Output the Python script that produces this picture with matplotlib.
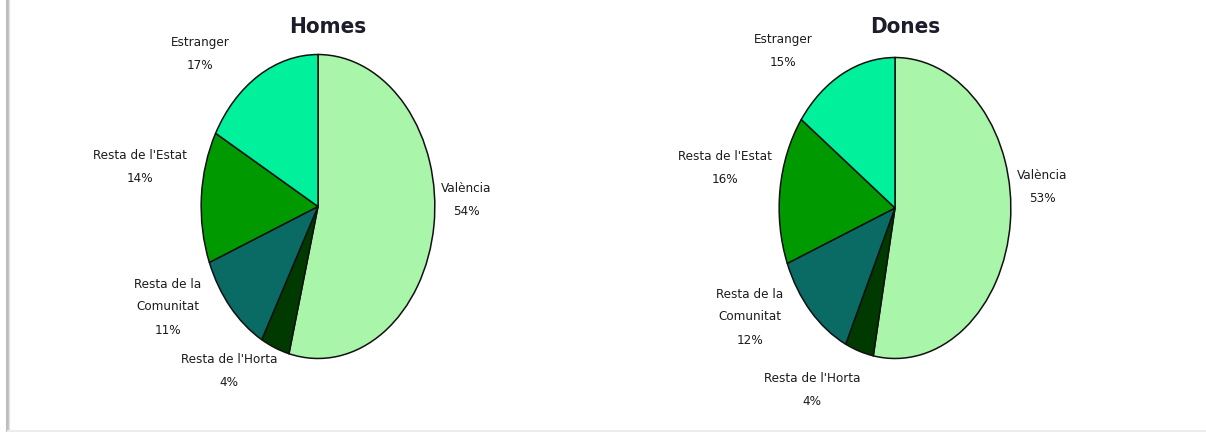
import matplotlib.pyplot as plt
from matplotlib.lines import Line2D

W, H = 1206, 432

origins = ["València", "Resta de l'Horta", "Resta de la\nComunitat",
           "Resta de l'Estat", "Estranger"]
homes = [54, 4, 11, 14, 17]
dones = [53, 4, 12, 16, 15]
titles = ["Homes", "Dones"]

colors = ["#a9f5a9", "#003a00", "#0a6a64", "#009a00", "#00f09c"]

# pie ellipses in pixels: centre x, centre y (from top), half width, half height
ellipses = [(318, 206.5, 118, 153.5), (895, 208, 117, 152)]
title_pos = [(328, 27), (905, 27)]
# label centres (pixels, from top), same order as origins
label_pos = [
    [(466, 200), (229, 371), (168, 307), (140, 167), (200, 54)],
    [(1042, 187), (812, 390), (750, 317), (725, 168), (783, 51)],
]

fig = plt.figure(figsize=(W / 100, H / 100), dpi=100)
fig.patch.set_facecolor("white")

for values, title, (cx, cy, rx, ry), tpos, lpos in zip(
        [homes, dones], titles, ellipses, title_pos, label_pos):
    ax = fig.add_axes([(cx - rx) / W, (H - cy - ry) / H, 2 * rx / W, 2 * ry / H])
    ax.pie(values, colors=colors, startangle=90, counterclock=False,
           radius=1, wedgeprops=dict(edgecolor="#111111", linewidth=1.1))
    ax.set_aspect("auto")
    ax.set_xlim(-1.01, 1.01)
    ax.set_ylim(-1.01, 1.01)
    ax.axis("off")

    fig.text(tpos[0] / W, 1 - tpos[1] / H, title, ha="center", va="center",
             fontsize=16, fontweight="bold", color="#1c1c2a",
             family="DejaVu Sans", fontstretch="condensed")
    for name, v, (lx, ly) in zip(origins, values, lpos):
        fig.text(lx / W, 1 - ly / H, f"{name}\n{v}%", ha="center", va="center",
                 fontsize=9.6, color="#1c1c1c", family="DejaVu Sans",
                 fontstretch="condensed", linespacing=2.0,
                 multialignment="center")

# page edges
fig.add_artist(Line2D([6.5 / W, 6.5 / W], [0, 1], color="#bdbdbd", linewidth=2.2))
fig.add_artist(Line2D([9 / W, 9 / W], [0, 1], color="#e6e6e6", linewidth=1))
fig.add_artist(Line2D([8 / W, 1], [1.5 / H, 1.5 / H], color="#ececec", linewidth=1.5))

fig.savefig("out.png", dpi=100, facecolor="white")
